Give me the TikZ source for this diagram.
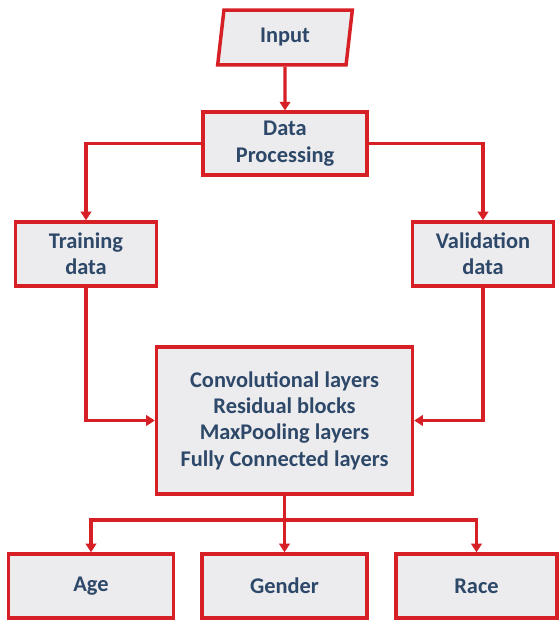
\documentclass[tikz,border=0pt]{standalone}
\usepackage{fontspec}
\setmainfont{Carlito}
\usetikzlibrary{arrows.meta,shapes.geometric}
\definecolor{boxred}{RGB}{214,32,38}
\definecolor{boxgray}{RGB}{236,236,239}
\definecolor{boxtext}{RGB}{45,72,104}
\begin{document}
\begin{tikzpicture}[x=0.75pt,y=-0.75pt,
		box/.style={draw=boxred, fill=boxgray, line width=2.6pt, text=boxtext, align=center,
			font=\fontsize{16.8}{19.8}\selectfont\bfseries, inner sep=2pt},
		flow/.style={draw=boxred, line width=2.6pt, -{Triangle[width=8pt,length=6.5pt]}},
		link/.style={draw=boxred, line width=2.6pt}]
	\useasboundingbox (0,0) rectangle (559,620);
			\node [box, trapezium, trapezium left angle=75, trapezium right angle=105, trapezium stretches body,
				minimum width=101pt, minimum height=41pt] (in) at (285,37.5) {Input};
			\node [box, minimum width=123pt, minimum height=47pt] (dp) at (285,143.5) {Data\\Processing};
			\node [box, minimum width=106pt, minimum height=48pt] (train) at (86,254) {Training\\data};
			\node [box, minimum width=106pt, minimum height=48pt] (valid) at (483,254) {Validation\\data};
			\node [box, minimum width=192pt, minimum height=110pt] (net) at (284.5,420.5)
				{Convolutional layers\\Residual blocks\\MaxPooling layers\\Fully Connected layers};
			\node [box, minimum width=124pt, minimum height=48pt] (age) at (91,586) {Age};
			\node [box, minimum width=124pt, minimum height=48pt] (gender) at (284.5,586) {Gender};
			\node [box, minimum width=121pt, minimum height=48pt] (race) at (476.5,586) {Race};
			\coordinate (split) at (284.5,520);
			\draw [flow] (in) -- (dp);
			\draw [flow] (dp.west) -| (train);
			\draw [flow] (dp.east) -| (valid);
			\draw [flow] (train) |- (net);
			\draw [flow] (valid) |- (net);
			\draw [link] (net) -- (split);
			\draw [flow] (split) -| (age);
			\draw [flow] (split) -- (gender);
			\draw [flow] (split) -| (race);
	\end{tikzpicture}
\end{document}
